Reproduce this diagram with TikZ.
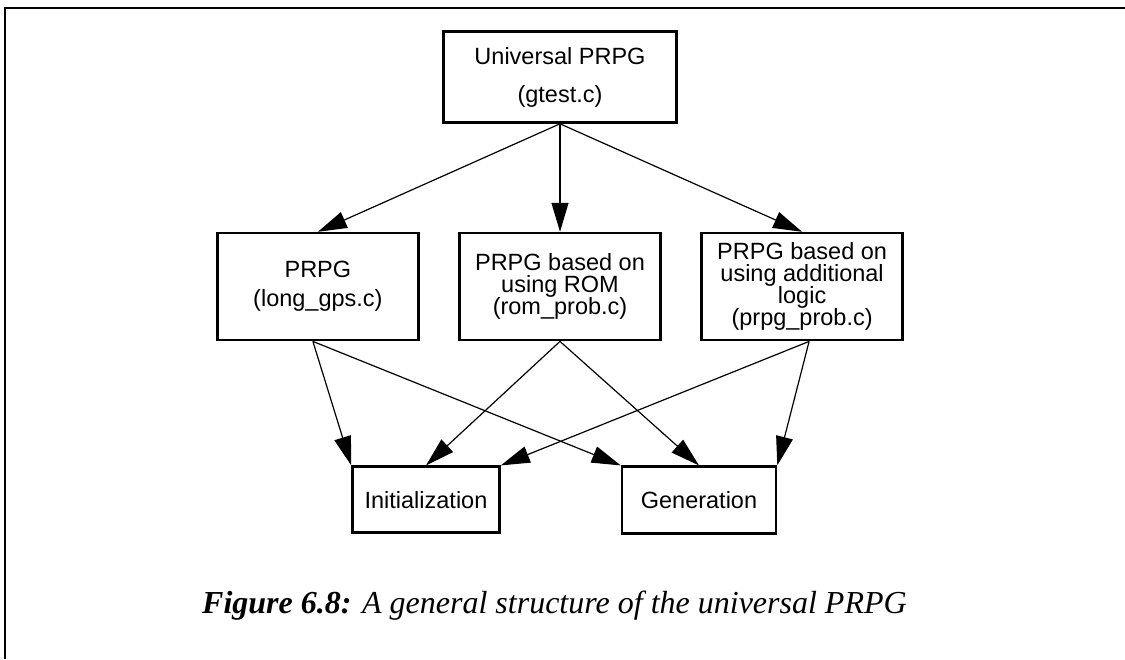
\documentclass[tikz,border=0pt]{standalone}
\usepackage{fontspec}
\setmainfont{Liberation Serif}
\setsansfont{Liberation Sans}
\usetikzlibrary{positioning,arrows.meta}

\begin{document}
\begin{tikzpicture}[x=1pt,y=-1pt,
  node distance=108pt and 38.5pt,
  box/.style={draw,line width=2.6pt,minimum width=201pt,minimum height=107pt,
              align=center,inner sep=2pt,font=\sffamily\fontsize{23.5}{22}\selectfont},
  endbox/.style={box,minimum width=147pt,minimum height=66pt},
  arr/.style={-{Triangle[length=29pt,width=17pt]},line width=1.2pt},
  frame/.style={line width=1.6pt},
  caption/.style={inner sep=0pt,font=\rmfamily\itshape\fontsize{32}{36}\selectfont}]
\useasboundingbox (0,0) rectangle (1125,659);
\draw[frame] (1125,8) -| (5,659);
% generator and its three variants
\node[box,minimum width=233pt,minimum height=91pt] (univ) at (560,77)
  {Universal PRPG\\[16pt](gtest.c)};
\node[box,below=of univ] (rom) {PRPG based on\\using ROM\\(rom\_prob.c)};
\node[box,left=of rom] (prpg) {PRPG\\[7pt](long\_gps.c)};
\node[box,right=of rom] (logic) {PRPG based on\\using additional\\logic\\(prpg\_prob.c)};
% the two phases
\node[endbox,below=124pt of rom,xshift=-134pt] (init) {Initialization};
\node[endbox,below=124pt of rom,xshift=139pt,minimum width=154pt,minimum height=67pt] (gen) {Generation};
\draw[arr] (univ.south)--(prpg.north);
\draw[arr] (univ.south)--(rom.north);
\draw[arr] (univ.south)--(logic.north);
\draw[arr] ([xshift=-5pt]prpg.south)--(init.north west);
\draw[arr] ([xshift=-5pt]prpg.south)--(gen.north west);
\draw[arr] (rom.south)--(init.north);
\draw[arr] (rom.south)--(gen.north);
\draw[arr] ([xshift=7pt]logic.south)--(init.north east);
\draw[arr] ([xshift=7pt]logic.south)--(gen.north east);
\node[caption,anchor=base west] (cap) at (202,613)
  {\textbf{Figure 6.8:} A general structure of the universal PRPG};
\end{tikzpicture}
\end{document}
